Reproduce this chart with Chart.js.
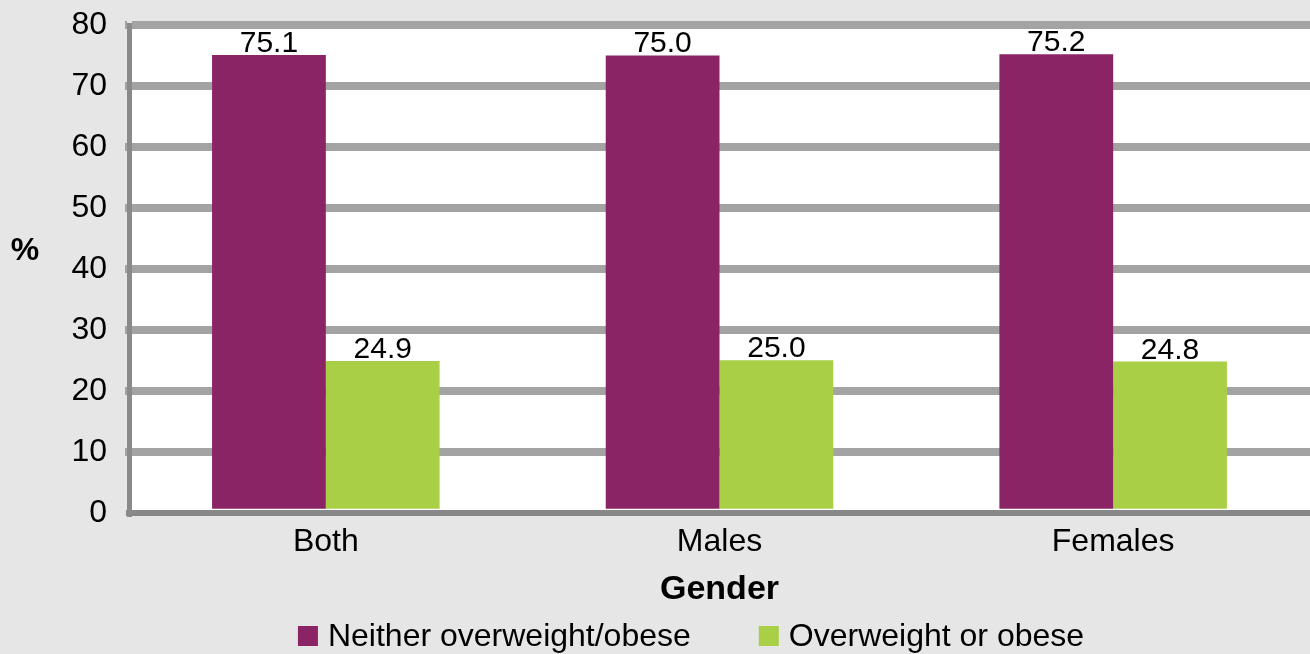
<!DOCTYPE html>
<html>
<head>
<meta charset="utf-8">
<script src="https://cdn.jsdelivr.net/npm/chart.js@4/dist/chart.umd.min.js"></script>
<style>
  html, body { margin: 0; padding: 0; background: #e6e6e6; }
  #wrap { width: 1310px; height: 654px; position: relative; }
</style>
</head>
<body>
<div id="wrap"><canvas id="c"></canvas></div>
<script>
const categories = ["Both", "Males", "Females"];
const seriesNames = ["Neither overweight/obese", "Overweight or obese"];
const neitherValues = [75.1, 75.0, 75.2];
const overweightValues = [24.9, 25.0, 24.8];
const seriesColors = ["#8B2465", "#A9CF46"];
const yTicks = [0, 10, 20, 30, 40, 50, 60, 70, 80];
const xTitle = "Gender";
const yTitle = "%";

const FONT = "'Liberation Sans', Arial, Helvetica, sans-serif";
Chart.defaults.font.family = FONT;
Chart.defaults.color = "#000";

const plotBg = {
  id: "plotBg",
  beforeDraw(chart) {
    const { ctx, chartArea: a } = chart;
    ctx.save();
    ctx.fillStyle = "#ffffff";
    ctx.fillRect(a.left, a.top, a.right - a.left, a.bottom - a.top);
    ctx.restore();
  }
};

const valueLabels = {
  id: "valueLabels",
  afterDatasetsDraw(chart) {
    const { ctx } = chart;
    ctx.save();
    ctx.font = "30px " + FONT;
    ctx.fillStyle = "#000";
    ctx.textAlign = "center";
    ctx.textBaseline = "alphabetic";
    chart.data.datasets.forEach((ds, i) => {
      const meta = chart.getDatasetMeta(i);
      meta.data.forEach((bar, j) => {
        ctx.fillText(ds.data[j].toFixed(1), bar.x, bar.y - 3);
      });
    });
    ctx.restore();
  }
};

const extras = {
  id: "extras",
  afterDraw(chart) {
    const { ctx } = chart;
    ctx.save();
    // y title (unrotated)
    ctx.font = "bold 32px " + FONT;
    ctx.fillStyle = "#000";
    ctx.textAlign = "center";
    ctx.textBaseline = "middle";
    ctx.fillText(yTitle, 25, 251);
    // legend
    ctx.font = "32px " + FONT;
    ctx.textAlign = "left";
    ctx.textBaseline = "middle";
    const cy = 636;
    const box = 20, gap = 10, itemGap = 68;
    const items = chart.data.datasets.map(d => ({ text: d.label, color: d.backgroundColor }));
    let total = 0;
    items.forEach((it, i) => {
      it.w = ctx.measureText(it.text).width;
      total += box + gap + it.w + (i < items.length - 1 ? itemGap : 0);
    });
    let x = 691 - total / 2;
    items.forEach(it => {
      ctx.fillStyle = it.color;
      ctx.fillRect(x, cy - box / 2, box, box);
      ctx.fillStyle = "#000";
      ctx.fillText(it.text, x + box + gap, cy + 1);
      x += box + gap + it.w + itemGap;
    });
    ctx.restore();
  }
};

new Chart(document.getElementById("c"), {
  type: "bar",
  data: {
    labels: categories,
    datasets: [
      { label: seriesNames[0], data: neitherValues, backgroundColor: seriesColors[0], borderWidth: 0 },
      { label: seriesNames[1], data: overweightValues, backgroundColor: seriesColors[1], borderWidth: 0 }
    ]
  },
  options: {
    responsive: true,
    maintainAspectRatio: false,
    animation: false,
    datasets: { bar: { categoryPercentage: 0.578, barPercentage: 1.0 } },
    layout: { padding: { top: 25, right: 0, bottom: 44, left: 0 } },
    plugins: {
      legend: { display: false },
      tooltip: { enabled: false },
      title: { display: false }
    },
    scales: {
      x: {
        grid: { display: false },
        border: { display: true, color: "#888888", width: 6 },
        ticks: { font: { size: 32 }, color: "#000", padding: 2 },
        title: { display: true, text: xTitle, font: { size: 34, weight: "bold" }, color: "#000", padding: { top: 6, bottom: 0 } }
      },
      y: {
        min: 0,
        max: 80,
        afterBuildTicks(scale) { scale.ticks = yTicks.map(v => ({ value: v })); },
        afterFit(scale) { scale.width = 129; scale.paddingTop = 0; scale.paddingBottom = 0; },
        grid: {
          color: ctx => (ctx.tick && ctx.tick.value === 0) ? "rgba(0,0,0,0)" : "#a3a3a3",
          lineWidth: 8,
          tickLength: 4,
          drawTicks: true
        },
        border: { display: true, color: "#8a8a8a", width: 5 },
        ticks: { font: { size: 32 }, color: "#000", padding: 18 }
      }
    }
  },
  plugins: [plotBg, valueLabels, extras]
});
</script>
</body>
</html>
